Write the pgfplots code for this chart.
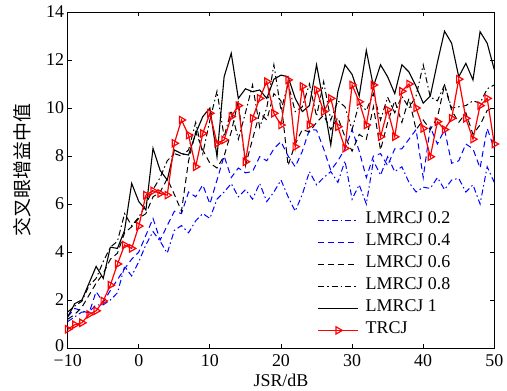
\documentclass[border=0pt]{standalone}
\usepackage{fontspec}
\setmainfont{Liberation Serif}
\newfontfamily\cjk{Noto Sans CJK SC}
\usepackage{pgfplots}
\usepackage{pgfplotstable}
\pgfplotsset{compat=1.18}
\pgfplotstableread{
x a b c d e f
-10 1.1 1.3 1.2 1.5 1.3 0.78
-9 1.3 1.65 1.4 1.75 1.85 0.97
-8 1.5 1.55 1.7 1.95 2.0 1.05
-7 1.5 1.45 2.2 2.6 2.7 1.40
-6 1.8 2.35 2.7 2.9 3.4 1.55
-5 1.8 1.9 3.1 3.6 2.9 1.96
-4 2.0 2.4 3.7 4.2 4.2 2.62
-3 2.3 2.85 3.95 4.45 4.15 3.5
-2 3.4 3.3 4.8 5.6 4.9 4.29
-1 3.0 3.7 5.05 5.1 6.86 4.15
0 3.6 4.0 5.4 5.45 6.1 5.08
1 4.3 4.7 5.6 6.0 5.75 6.37
2 4.85 5.4 6.3 6.6 8.32 6.55
3 4.45 4.5 6.5 7.1 7.4 6.44
4 3.95 5.1 7.05 7.8 7.0 6.37
5 4.9 5.7 6.4 8.1 8.25 8.53
6 5.1 5.6 5.7 8.0 8.1 9.5
7 4.8 6.5 7.8 8.25 8.04 8.87
8 5.3 6.3 9.0 9.4 8.94 7.55
9 5.6 6.8 8.25 8.1 9.64 8.94
10 5.4 6.0 7.7 9.5 10.0 9.78
11 6.2 7.0 7.5 10.7 7.97 8.53
12 6.5 8.0 8.0 8.8 11.3 8.67
13 6.85 7.1 9.0 9.9 12.28 9.64
14 6.3 7.5 10.3 8.7 10.4 10.1
15 6.6 7.3 7.6 9.8 10.8 7.76
16 6.2 7.35 8.7 10.96 10.68 9.57
17 6.86 7.97 9.8 9.2 10.75 10.4
18 6.1 7.8 9.5 10.0 10.4 11.1
19 6.5 8.3 10.6 11.8 11.2 9.78
20 7.0 8.6 10.3 9.9 11.37 9.29
21 6.3 8.0 7.6 11.0 11.3 11.17
22 5.7 7.55 8.5 9.85 10.4 8.39
23 6.4 8.2 9.1 10.05 9.85 10.9
24 7.35 9.1 9.0 11.0 10.1 9.29
25 6.8 9.08 9.4 9.65 11.8 10.75
26 7.1 8.3 9.7 11.1 10.2 9.85
27 7.35 7.4 9.1 9.5 8.46 10.4
28 6.9 7.8 9.6 10.3 10.68 9.22
29 7.8 8.3 8.8 10.05 11.8 8.32
30 6.2 9.1 8.2 9.1 11.4 10.96
31 6.8 8.2 8.9 10.2 10.5 10.26
32 6.0 7.1 8.7 9.9 12.4 9.29
33 7.8 8.0 10.05 10.6 10.9 10.96
34 7.2 8.1 8.25 9.5 11.8 8.8
35 7.97 7.6 9.4 10.45 11.3 9.92
36 7.35 8.3 10.3 9.8 10.6 8.8
37 7.55 8.3 9.4 10.5 11.8 10.7
38 6.9 8.7 10.4 10.0 11.5 11.0
39 6.5 9.1 9.1 10.5 10.9 10.0
40 6.7 7.1 9.5 11.8 10.2 9.15
41 6.65 9.2 9.1 10.45 10.5 7.97
42 7.1 8.5 9.6 10.3 11.9 9.43
43 6.6 9.1 10.96 10.96 13.2 9.1
44 7.0 7.7 9.9 10.0 12.7 9.57
45 7.07 7.8 9.4 10.05 11.3 11.2
46 6.5 8.5 9.8 10.1 11.86 9.57
47 6.8 8.3 8.9 10.3 11.17 8.7
48 6.0 7.5 9.3 10.2 13.18 10.1
49 7.55 9.15 9.9 10.8 12.7 10.4
50 6.9 8.3 10.0 10.96 11.6 8.5
}\datatable
\begin{document}
\begin{tikzpicture}
\useasboundingbox (-67.7bp,-43bp) rectangle (439.3bp,348bp);
\begin{axis}[
  at={(0,0)}, anchor=south west,
  scale only axis, width=426.6bp, height=336bp,
  xmin=-10, xmax=50, ymin=0, ymax=14,
  xtick={-10,0,10,20,30,40,50},
  xticklabels={−10,0,10,20,30,40,50},
  ytick={0,2,4,6,8,10,12,14},
  yticklabels={\raisebox{4bp}{0},2,4,6,8,10,12,14},
  tick align=inside, xtick pos=both, ytick pos=both,
  major tick length=4bp,
  axis line style={line width=0.8bp},
  every tick/.style={line width=0.8bp, black},
  /pgf/number format/assume math mode=true,
  tick label style={font=\fontsize{18}{20}\selectfont},
  xticklabel style={yshift=-3bp},
  xlabel={JSR/dB},
  xlabel style={font=\fontsize{18}{20}\selectfont, at={(axis description cs:0.5,-0.097)}, anchor=center},
  ylabel={\cjk\fontsize{19}{20}\selectfont 交叉眼增益中值},
  ylabel style={at={(axis description cs:-0.107,0.53)}, anchor=center},
  legend style={at={(0.585,0.413)}, anchor=north west, draw=none, fill=white,
    font=\fontsize{18}{20}\selectfont, inner sep=0bp, row sep=0bp,
    nodes={inner sep=1bp, text height=13.5bp, text depth=6.5bp}},
  legend cell align=left,
  legend image code/.code={\draw[mark repeat=2,mark phase=2,#1] plot coordinates {(0bp,0bp) (20bp,0bp) (40bp,0bp)};},
]
\addplot[blue, line width=1bp, dash pattern={on 6bp off 3bp on 1.5bp off 3bp}] table[x=x,y=a] {\datatable};
\addlegendentry{\hspace{6bp}LMRCJ 0.2}
\addplot[blue, line width=1bp, dash pattern={on 6bp off 4bp}] table[x=x,y=b] {\datatable};
\addlegendentry{\hspace{6bp}LMRCJ 0.4}
\addplot[black, line width=1bp, dash pattern={on 6bp off 4bp}] table[x=x,y=c] {\datatable};
\addlegendentry{\hspace{6bp}LMRCJ 0.6}
\addplot[black, line width=1bp, dash pattern={on 6bp off 3bp on 1.5bp off 3bp}] table[x=x,y=d] {\datatable};
\addlegendentry{\hspace{6bp}LMRCJ 0.8}
\addplot[black, line width=1.1bp] table[x=x,y=e] {\datatable};
\addlegendentry{\hspace{6bp}LMRCJ 1}
\addplot[red, line width=1.2bp, mark=triangle, mark size=4.2bp, mark options={solid, rotate=-90, fill=none}] table[x=x,y=f] {\datatable};
\addlegendentry{\hspace{6bp}TRCJ}
\end{axis}
\end{tikzpicture}
\end{document}
